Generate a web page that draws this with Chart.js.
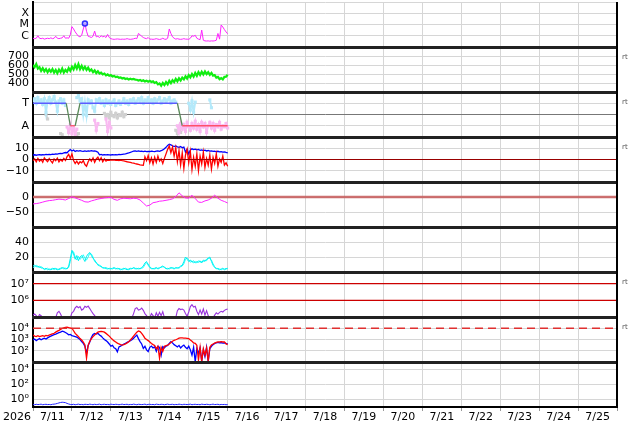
<!DOCTYPE html>
<html>
<head>
<meta charset="utf-8">
<script src="https://cdn.jsdelivr.net/npm/chart.js@4.4.1/dist/chart.umd.min.js"></script>
<style>
  html, body { margin: 0; padding: 0; background: #fff; }
  canvas { display: block; }
</style>
</head>
<body>
<canvas id="chart" width="634" height="424"></canvas>
<script>
// time axis: hours since 7/11 00:00, 15 days shown
const dayLabels = ['7/11', '7/12', '7/13', '7/14', '7/15', '7/16', '7/17', '7/18', '7/19', '7/20', '7/21', '7/22', '7/23', '7/24', '7/25'];
const yearLabel = '2026';

// x-ray flux, hourly (W/m2)
const xrayFlux = [
  6e-7, 5.5e-7, 6e-7, 1e-6, 6e-7, 5.5e-7, 6e-7, 5e-7, 5.5e-7, 6e-7, 5.5e-7, 6.5e-7,
  5.5e-7, 6e-7, 9e-7, 6e-7, 5.5e-7, 6e-7, 6.5e-7, 1e-6, 6e-7, 6.5e-7, 6e-7, 1.2e-6,
  6.4e-6, 4e-6, 2.2e-6, 1.4e-6, 9e-7, 8e-7, 1.1e-6, 4e-6, 1.25e-5, 2.5e-6, 9e-7, 8e-7,
  7e-7, 9e-7, 2.6e-6, 8e-7, 9e-7, 7e-7, 1e-6, 8e-7, 9e-7, 7e-7, 1.3e-6, 7e-7,
  5.5e-7, 5e-7, 4.8e-7, 5e-7, 5.2e-7, 5e-7, 4.8e-7, 5e-7, 4.9e-7, 5e-7, 5.5e-7, 5e-7,
  4.8e-7, 5e-7, 5.3e-7, 6e-7, 5.5e-7, 1.6e-6, 1.2e-6, 9e-7, 7e-7, 6e-7, 5.5e-7, 7e-7,
  5e-7, 5e-7, 4.8e-7, 5e-7, 5.5e-7, 5e-7, 4.7e-7, 5e-7, 6e-7, 5e-7, 4.8e-7, 6e-7,
  4e-6, 1.6e-6, 8e-7, 6e-7, 5e-7, 5.5e-7, 5e-7, 4.8e-7, 5e-7, 5.5e-7, 5e-7, 5e-7,
  4.8e-7, 6e-7, 1e-6, 9e-7, 1.1e-6, 6e-7, 5e-7, 4.5e-7, 3.2e-6, 4e-7, 3.5e-7, 3.4e-7,
  3.5e-7, 3.3e-7, 3.5e-7, 3.4e-7, 3.6e-7, 4e-7, 1.6e-6, 5e-7, 9e-6, 6e-6, 3.5e-6, 2.2e-6,
  1.5e-6
];
const flareHours = [32];
const flareFlux = [1.25e-5];

// solar wind speed, hourly (km/s)
const windSpeed = [
  600, 575, 610, 560, 575, 535, 565, 530, 555, 520, 550, 525,
  555, 515, 545, 510, 550, 520, 560, 515, 545, 525, 565, 535,
  580, 550, 600, 560, 610, 555, 590, 550, 580, 545, 570, 535,
  550, 520, 540, 510, 530, 505, 515, 495, 505, 485, 495, 480,
  488, 472, 478, 465, 470, 458, 462, 450, 456, 445, 450, 440,
  448, 440, 446, 438, 436, 428, 434, 422, 430, 418, 426, 414,
  424, 410, 418, 400, 410, 385, 395, 370, 400, 378, 410, 385,
  425, 398, 432, 410, 445, 418, 452, 428, 460, 440, 475, 450,
  488, 462, 500, 470, 512, 480, 520, 490, 525, 495, 528, 498,
  520, 490, 512, 482, 488, 460, 468, 442, 455, 440, 468, 470,
  492
];

// magnetic sector: 3 = T (toward), 1 = A (away)
const sectorHours = [0, 20.5, 23, 26, 29, 89, 92, 120];
const sectorValues = [3, 3, 1, 1, 3, 3, 1, 1];
const sectorToward = [
  3.2, 3.4, 3.0, 3.5, 3.1, 3.3, 2.9, 3.4, 2.2, 3.2, 3.5, 3.0,
  3.3, 3.6, 3.1, 2.3, 3.2, 3.4, 3.0, 3.3, 2.8, null, null, null,
  null, null, null, 3.5, 3.7, 3.2, 3.4, 2.0, 3.1, 1.9, 3.3, 3.0,
  3.2, 2.6, 2.3, 3.3, 3.1, 3.4, 3.0, 3.2, 2.8, 3.3, 3.0, 3.2,
  2.9, 3.1, 3.3, 2.8, 3.0, 3.2, 2.9, 3.1, 3.4, 3.0, 3.2, 2.9,
  3.3, 3.1, 3.4, 3.0, 3.2, 3.4, 3.1, 3.5, 3.0, 3.3, 3.2, 3.5,
  3.1, 3.3, 3.0, 3.4, 3.1, 3.3, 3.5, 3.0, 3.2, 3.4, 3.1, 3.3,
  3.5, 3.0, 3.2, 3.3, 3.1, null, null, null, null, null, null, null,
  3.0, 2.4, 3.2, 2.2, 3.1, null, null, null, null, null, null, null,
  null, 3.3, 2.6, null, null, null, null, null, null, null, null, null,
  null
];
const sectorAway = [
  null, null, null, null, null, null, null, null, null, null, null, null,
  null, null, null, null, null, null, null, null, null, 0.9, 0.4, 1.1,
  0.3, 0.8, 0.2, 0.7, null, null, null, null, null, null, null, null,
  null, null, 1.5, 0.6, 1.2, null, null, null, null, 1.6, 0.5, 1.3,
  0.8, null, null, null, null, null, null, null, null, null, null, null,
  null, null, null, null, null, null, null, null, null, null, null, null,
  null, null, null, null, null, null, null, null, null, null, null, null,
  null, null, null, null, null, 1.0, 0.4, 1.2, 0.7, 1.1, 0.5, 1.3,
  0.9, 0.6, 1.2, 0.8, 1.4, 0.7, 1.1, 0.5, 1.3, 0.9, 1.2, 0.4,
  1.0, 1.3, 0.8, 1.2, 0.6, 1.1, 0.9, 1.3, 0.7, 1.0, 0.9, 1.2,
  0.8
];
const sectorMixed = [
  null, null, null, null, null, null, null, null, 2.0, 1.6, null, null,
  null, null, null, null, null, 0.3, 0.2, null, null, null, null, null,
  null, null, null, 0.2, 0.3, null, null, null, null, null, null, null,
  null, null, null, null, null, null, null, null, 2.1, 1.8, 2.0, 1.7,
  2.2, 1.9, 1.8, 2.1, 1.7, 2.0, 1.9, 2.2, 1.8, 2.0, null, null,
  null, null, null, null, null, null, null, null, null, null, null, null,
  null, null, null, null, null, null, null, null, null, null, null, null,
  null, null, null, null, 0.6, 0.3, 0.9, 0.4, null, null, null, null,
  null, null, null, null, null, null, null, null, null, null, null, null,
  null, null, null, null, null, null, null, null, null, null, null, null,
  null
];

// IMF Bt and Bz, hourly (nT)
const imfBt = [
  4.0, 4.2, 3.8, 4.1, 4.3, 4.0, 4.4, 4.2, 4.5, 4.3, 4.6, 4.4,
  4.8, 4.6, 5.0, 4.8, 5.2, 5.5, 5.3, 5.8, 6.2, 6.0, 7.5, 8.8,
  7.6, 8.5, 7.2, 7.8, 7.4, 7.9, 7.5, 7.2, 7.6, 7.3, 7.7, 7.5,
  7.8, 7.4, 7.6, 7.2, 6.5, 4.2, 4.5, 4.0, 4.3, 4.1, 4.4, 4.2,
  4.0, 4.3, 4.1, 4.4, 4.2, 4.5, 4.3, 4.6, 4.8, 5.0, 5.4, 5.8,
  6.3, 6.9, 7.4, 7.7, 7.3, 7.6, 7.2, 7.5, 7.1, 7.4, 7.0, 7.3,
  7.1, 7.5, 7.2, 7.0, 7.4, 7.6, 7.3, 7.8, 8.5, 9.5, 10.8, 12.5,
  13.5, 13.0, 12.2, 11.5, 12.0, 11.2, 10.8, 11.5, 10.5, 11.0, 6.5, 9.0,
  5.0, 8.5, 9.5, 8.8, 9.2, 8.6, 8.9, 8.2, 8.6, 7.9, 8.3, 7.6,
  8.0, 7.4, 7.7, 7.2, 7.5, 6.9, 7.3, 6.8, 7.0, 6.6, 6.8, 6.3,
  6.0
];
const imfBz = [
  -1.0, 0.5, -2.0, 1.0, -1.5, 0.0, -2.5, 1.5, -0.5, -2.0, 0.8, -1.2,
  -3.0, 0.5, -1.0, 1.2, -2.2, 0.0, -1.5, 1.0, -0.8, 2.5, 4.5, 1.0,
  5.0, -1.0, -3.5, -1.5, -4.0, -2.0, -3.0, -1.0, -4.5, -6.0, -2.0, 0.5,
  -1.5, 1.5, -2.5, 0.5, 2.0, -1.0, 1.5, -2.0, 0.5, -1.5, -0.5, -0.8,
  -0.4, -0.6, -0.3, -0.7, -0.5, -0.9, -0.6, -1.0, -1.2, -1.6, -2.0, -2.3,
  -2.6, -3.0, -3.3, -3.7, -4.0, -4.4, -4.8, -5.0, -5.2, 2.5, -1.0, 3.5,
  -3.0, 1.5, -4.0, 2.0, -2.5, 3.0, -1.5, 0.5, -3.5, 1.0, 5.0, 9.0,
  12.0, 6.0, 11.0, 3.0, 10.5, -2.0, 8.0, -5.0, 6.0, -8.0, 4.0, 9.0,
  -3.0, 7.0, -9.0, 2.0, -6.0, 5.0, -10.0, 3.0, -4.0, 6.5, -7.0, 1.0,
  -5.0, 4.0, -8.5, 2.0, -3.5, 5.0, -6.0, 0.5, -2.5, 3.0, -5.0, -3.0,
  -6.0
];

// Dst, every 2 hours (nT)
const dstIndex = [
  -23, -22, -20, -17, -14, -12, -11, -9, -7, -8, -10, -5,
  1, -3, -7, -11, -16, -17, -13, -10, -7, -5, -3, -2,
  -1, -8, -11, -6, -4, -5, -6, -4, -5, -10, -20, -30,
  -27, -19, -17, -14, -13, -11, -9, -6, 1, 14, 4, -3,
  -4, 6, -5, -17, -18, -13, -10, -4, 6, -4, -11, -15,
  -20
];

// proton density, hourly, two sources (p/cm3)
const densityA = [
  8, 9, 7, 8, 6, 7, 5, 4, 5, 3, 4, 3,
  4, 5, 4, 3, 4, 5, 6, 4, 5, 4, 8, 18,
  29, 24, 17, 22, 15, 20, 22, 18, 14, 21, 24, 26,
  22, 18, 16, 12, 10, 9, 7, 6, 5, 6, 4, 5,
  4, 5, 6, 4, 5, 4, 3, 4, 5, 4, 3, 4,
  5, 4, 6, 5, 4, 5, 4, 6, 8, 12, 14, 9,
  6, 5, 4, 5, 6, 4, 5, 7, 8, 6, 5, 4,
  5, 6, 5, 4, 6, 5, 6, 8, 9, 14, 20, 17,
  14, 16, 13, 15, 12, 14, 13, 15, 12, 16, 14, 17,
  18, 20, 14, 9, 6, 5, 4, 3, 4, 5, 3, 4,
  5
];
const densityB = [
  6, 7, 9, 6, 8, 5, 6, 3, 4, 5, 3, 4,
  5, 3, 5, 4, 3, 4, 5, 6, 4, 5, 6, 14,
  25, 27, 20, 16, 21, 17, 19, 23, 18, 16, 20, 25,
  24, 20, 14, 13, 9, 8, 8, 5, 6, 4, 5, 4,
  5, 4, 5, 5, 4, 5, 4, 3, 4, 5, 4, 3,
  4, 5, 5, 4, 5, 4, 5, 5, 6, 10, 12, 11,
  7, 4, 5, 4, 5, 5, 6, 6, 7, 7, 4, 5,
  4, 5, 6, 5, 5, 6, 5, 7, 8, 11, 17, 19,
  16, 13, 15, 12, 14, 12, 15, 13, 14, 14, 16, 15,
  19, 18, 16, 11, 7, 4, 5, 4, 3, 4, 4, 5,
  4
];

// >10 MeV proton fluence, hourly
const protonFlux = [
  1.3e5, 1.5e5, 1.2e5, 9e4, 1.4e5, 1.2e5, 9e4, 9e4, 9e4, 9e4, 9e4, 9e4,
  9e4, 9e4, 9e4, 1.8e5, 2.2e5, 1.5e5, 9e4, 9e4, 9e4, 9e4, 9e4, 9e4,
  1.8e5, 2.2e5, 3.5e5, 4.4e5, 3.6e5, 4.2e5, 2.6e5, 3e5, 4.4e5, 3.8e5, 4.5e5, 3.2e5,
  2.2e5, 1.6e5, 1.2e5, 9e4, 9e4, 9e4, 9e4, 9e4, 9e4, 9e4, 9e4, 9e4,
  9e4, 9e4, 9e4, 9e4, 9e4, 9e4, 9e4, 9e4, 9e4, 9e4, 9e4, 9e4,
  9e4, 9e4, 1.6e5, 3.2e5, 3.6e5, 2.6e5, 2.8e5, 3.4e5, 2.5e5, 1.6e5, 1.2e5, 9e4,
  9e4, 1.6e5, 1.2e5, 9e4, 1.8e5, 1.1e5, 1.9e5, 1.2e5, 2.1e5, 9e4, 9e4, 9e4,
  9e4, 9e4, 9e4, 9e4, 9e4, 2.4e5, 3.2e5, 2.8e5, 3e5, 2.6e5, 1.6e5, 1.1e5,
  2e5, 4.2e5, 5.5e5, 4e5, 4.4e5, 2.2e5, 1.4e5, 2.6e5, 1.5e5, 3e5, 1.3e5, 2.4e5,
  1.2e5, 9e4, 9e4, 9e4, 1.3e5, 1.8e5, 1.5e5, 1.9e5, 2.2e5, 2e5, 2.5e5, 2.8e5,
  3e5
];

// >2 MeV electron flux, hourly, two satellites
const electronsBlue = [
  900, 1100, 800, 1000, 1200, 950, 1150, 1300, 1100, 1400, 1700, 2000,
  2300, 2700, 3000, 3500, 4000, 4600, 5500, 5000, 4200, 3400, 2600, 2800,
  2200, 2000, 1800, 1600, 1300, 1000, 650, 450, 250, 60, 300, 600,
  1500, 2800, 3500, 3000, 3600, 2500, 2000, 1400, 1000, 800, 600, 400,
  260, 300, 180, 150, 80, 220, 260, 320, 400, 450, 550, 650,
  800, 950, 1300, 1800, 2500, 1200, 650, 400, 160, 250, 120, 85,
  200, 260, 180, 220, 90, 250, 200, 40, 230, 180, 260, 300,
  450, 650, 500, 350, 280, 220, 300, 180, 250, 320, 200, 150,
  260, 120, 40, 200, 11, 150, 60, 180, 12, 120, 30, 200,
  11, 150, 250, 350, 450, 500, 550, 500, 520, 480, 500, 450,
  430
];
const electronsRed = [
  2500, 2000, 1800, 2200, 1800, 2000, 2200, 1900, 2300, 2100, 2500, 2800,
  3200, 3600, 4500, 5500, 6500, 8000, 9500, 11000, 12000, 12500, 11500, 10500,
  10000, 6000, 3500, 2500, 1800, 1200, 900, 600, 320, 22, 300, 700,
  1200, 1800, 2500, 3500, 4500, 5000, 5200, 5000, 4500, 3500, 2700, 2000,
  1400, 1000, 750, 600, 480, 400, 350, 320, 350, 400, 500, 620,
  900, 1300, 2000, 3000, 4500, 5700, 5000, 3500, 2200, 1300, 1000, 800,
  600, 450, 350, 300, 150, 250, 22, 200, 90, 250, 280, 320,
  400, 550, 700, 850, 950, 1100, 1300, 1400, 1400, 1350, 1300, 1250,
  1200, 900, 700, 500, 450, 300, 15, 200, 11, 150, 40, 180,
  12, 200, 320, 400, 480, 550, 600, 620, 650, 600, 620, 400,
  350
];

// bottom panel, hourly
const lowFlux = [
  0.22, 0.2, 0.23, 0.21, 0.22, 0.24, 0.2, 0.22, 0.23, 0.21, 0.22, 0.2,
  0.23, 0.24, 0.26, 0.3, 0.35, 0.4, 0.43, 0.41, 0.38, 0.3, 0.25, 0.22,
  0.21, 0.23, 0.2, 0.22, 0.24, 0.21, 0.22, 0.2, 0.23, 0.22, 0.21, 0.24,
  0.22, 0.2, 0.23, 0.21, 0.22, 0.24, 0.2, 0.22, 0.23, 0.21, 0.22, 0.2,
  0.24, 0.22, 0.21, 0.23, 0.22, 0.2, 0.22, 0.24, 0.21, 0.22, 0.23, 0.2,
  0.22, 0.21, 0.24, 0.22, 0.2, 0.23, 0.22, 0.21, 0.22, 0.24, 0.2, 0.22,
  0.23, 0.21, 0.22, 0.2, 0.24, 0.22, 0.21, 0.23, 0.22, 0.2, 0.22, 0.24,
  0.21, 0.22, 0.23, 0.2, 0.22, 0.21, 0.24, 0.22, 0.2, 0.23, 0.22, 0.21,
  0.22, 0.24, 0.2, 0.22, 0.23, 0.21, 0.22, 0.2, 0.24, 0.22, 0.21, 0.23,
  0.22, 0.2, 0.22, 0.24, 0.21, 0.22, 0.23, 0.2, 0.22, 0.21, 0.22, 0.2,
  0.21
];

// reference levels
const bzZero = 0;
const dstZero = 0;
const protonLevels = [1e6, 1e7];
const electronAlert = 1e4;

// ---------------------------------------------------------------

const FONT = 'DejaVu Sans';
const GRID = '#d6d6d6';

function series(values, step) {
  return values.map((v, i) => ({ x: i * step, y: v }));
}
function level(v) {
  return [{ x: 0, y: v }, { x: 360, y: v }];
}

function panel(weight, type, min, max, tickValues, tickLabels, gridColor) {
  return {
    type, min, max,
    position: 'left', stack: 'panels', stackWeight: 1, weight,
    border: { display: true, color: '#000', width: 2 },
    grid: { color: gridColor || GRID, drawTicks: false },
    ticks: {
      autoSkip: false, padding: 4, color: '#000',
      font: { family: FONT, size: 11 },
      callback: (v, i) => tickLabels[i]
    },
    afterBuildTicks: s => { s.ticks = tickValues.map(v => ({ value: v })); },
    afterFit: s => {
      s.width = 33;
      s.paddingTop = 0; s.paddingBottom = 0; s.paddingLeft = 0; s.paddingRight = 0;
    }
  };
}

function line(data, yAxisID, color, width, extra) {
  return Object.assign({
    data, yAxisID, xAxisID: 'x',
    borderColor: color, backgroundColor: color, borderWidth: width,
    pointRadius: 0, fill: false, tension: 0, spanGaps: false
  }, extra || {});
}

const panelIds = ['yXray', 'ySpeed', 'ySector', 'yImf', 'yDst', 'yDens', 'yProton', 'yElec', 'yLow'];
const rtPanels = ['ySpeed', 'ySector', 'yImf', 'yProton', 'yElec'];

const framePlugin = {
  id: 'frame',
  afterDatasetsDraw(chart) {
    const { ctx, chartArea: a } = chart;
    ctx.save();
    ctx.strokeStyle = '#222';
    ctx.lineWidth = 3;
    panelIds.slice(1).forEach(id => {
      const y = Math.round(chart.scales[id].top) + 0.5;
      ctx.beginPath();
      ctx.moveTo(a.left - 1, y);
      ctx.lineTo(a.right + 1, y);
      ctx.stroke();
    });
    ctx.strokeStyle = '#000';
    ctx.lineWidth = 2;
    ctx.beginPath();
    ctx.moveTo(a.right, a.top);
    ctx.lineTo(a.right, a.bottom);
    ctx.stroke();
    ctx.fillStyle = '#555';
    ctx.font = '7px ' + FONT;
    ctx.textAlign = 'left';
    ctx.textBaseline = 'middle';
    rtPanels.forEach(id => ctx.fillText('rt', a.right + 5, chart.scales[id].top + 10));
    ctx.fillStyle = '#000';
    ctx.font = '11px ' + FONT;
    ctx.textAlign = 'center';
    ctx.fillText(yearLabel, 17, a.bottom + 10);
    ctx.restore();
  }
};

const sectorColor = c => {
  const a = c.p0.parsed.y, b = c.p1.parsed.y;
  if (a === 3 && b === 3) return '#5c5cff';
  if (a === 1 && b === 1) return '#ff4f6a';
  return '#5a8a5a';
};

new Chart(document.getElementById('chart'), {
  type: 'line',
  data: {
    datasets: [
      // x-ray
      line(flareHours.map((h, i) => ({ x: h, y: flareFlux[i] })), 'yXray', '#3030ff', 1.5,
        { showLine: false, pointRadius: 2.5, pointBackgroundColor: 'rgba(170,170,255,0.7)', pointBorderColor: '#3030ff', pointBorderWidth: 1.5 }),
      line(series(xrayFlux, 1), 'yXray', '#ff22ff', 1),
      // speed
      line(series(windSpeed, 1), 'ySpeed', '#11ee11', 2.2),
      // sector
      line(sectorHours.map((h, i) => ({ x: h, y: sectorValues[i] })), 'ySector', '#5c5cff', 1.3,
        { segment: { borderColor: sectorColor } }),
      line(series(sectorToward, 1), 'ySector', '#b4e9fa', 2, { pointRadius: 0.8, pointStyle: 'rect' }),
      line(series(sectorAway, 1), 'ySector', '#f9b9f1', 2, { pointRadius: 0.8, pointStyle: 'rect' }),
      line(series(sectorMixed, 1), 'ySector', '#d0d0d0', 2, { pointRadius: 0.8, pointStyle: 'rect' }),
      // imf
      line(level(bzZero), 'yImf', '#990000', 1.2),
      line(series(imfBz, 1), 'yImf', '#ff0000', 1.3),
      line(series(imfBt, 1), 'yImf', '#0000ff', 1.3),
      // dst
      line(level(dstZero), 'yDst', 'rgba(200,96,96,0.9)', 2.5, { order: 5 }),
      line(series(dstIndex, 2), 'yDst', '#ff22ff', 1),
      // density
      line(series(densityA, 1), 'yDens', '#00f0f0', 1),
      line(series(densityB, 1), 'yDens', '#22ffff', 1),
      // protons
      line(level(protonLevels[0]), 'yProton', '#cc0000', 1.2),
      line(level(protonLevels[1]), 'yProton', '#cc0000', 1.2),
      line(series(protonFlux, 1), 'yProton', '#9933dd', 1.1),
      // electrons
      line(level(electronAlert), 'yElec', '#e03030', 1.5, { borderDash: [8, 5] }),
      line(series(electronsRed, 1), 'yElec', '#ff0000', 1.3),
      line(series(electronsBlue, 1), 'yElec', '#0000ff', 1.3),
      // bottom
      line(series(lowFlux, 1), 'yLow', '#2222ff', 1)
    ]
  },
  options: {
    responsive: false,
    animation: false,
    events: [],
    layout: { autoPadding: false, padding: { left: 0, top: 2, right: 17, bottom: 0 } },
    plugins: { legend: { display: false }, tooltip: { enabled: false } },
    scales: {
      x: {
        type: 'linear', min: 0, max: 360, position: 'bottom',
        border: { display: true, color: '#000', width: 2 },
        grid: {
          color: c => (c.tick && c.tick.value % 24 === 0) ? GRID : 'rgba(0,0,0,0)',
          tickColor: c => (c.tick && c.tick.value % 24 === 0) ? '#999' : 'rgba(0,0,0,0)',
          tickLength: 4
        },
        ticks: {
          autoSkip: false, maxRotation: 0, padding: 0, color: '#000',
          font: { family: FONT, size: 11 },
          callback: v => (v % 24 === 12) ? dayLabels[(v - 12) / 24] : ''
        },
        afterBuildTicks: s => {
          const t = [];
          for (let h = 0; h <= 360; h += 12) t.push({ value: h });
          s.ticks = t;
        },
        afterFit: s => { s.height = 17; s.paddingLeft = 0; s.paddingRight = 0; }
      },
      yXray: panel(9, 'logarithmic', 1e-7, 1e-3, [1e-6, 1e-5, 1e-4, 1e-3], ['C', 'M', 'X', '']),
      ySpeed: panel(8, 'linear', 300, 800, [400, 500, 600, 700], ['400', '500', '600', '700']),
      ySector: panel(7, 'linear', 0, 4, [1, 2, 3], ['A', '', 'T'],
        c => (c.tick && c.tick.value === 2) ? '#777' : GRID),
      yImf: panel(6, 'linear', -20, 20, [-10, 0, 10], ['\u221210', '0', '10']),
      yDst: panel(5, 'linear', -100, 50, [-50, 0], ['\u221250', '0']),
      yDens: panel(4, 'linear', 0, 60, [20, 40], ['20', '40']),
      yProton: panel(3, 'logarithmic', 1e5, 5e7, [1e6, 1e7], ['10\u2076', '10\u2077']),
      yElec: panel(2, 'logarithmic', 10, 1e5, [1e2, 1e3, 1e4], ['10\u00b2', '10\u00b3', '10\u2074']),
      yLow: panel(1, 'logarithmic', 0.1, 1e5, [1, 1e2, 1e4], ['10\u2070', '10\u00b2', '10\u2074'])
    }
  },
  plugins: [framePlugin]
});
</script>
</body>
</html>
